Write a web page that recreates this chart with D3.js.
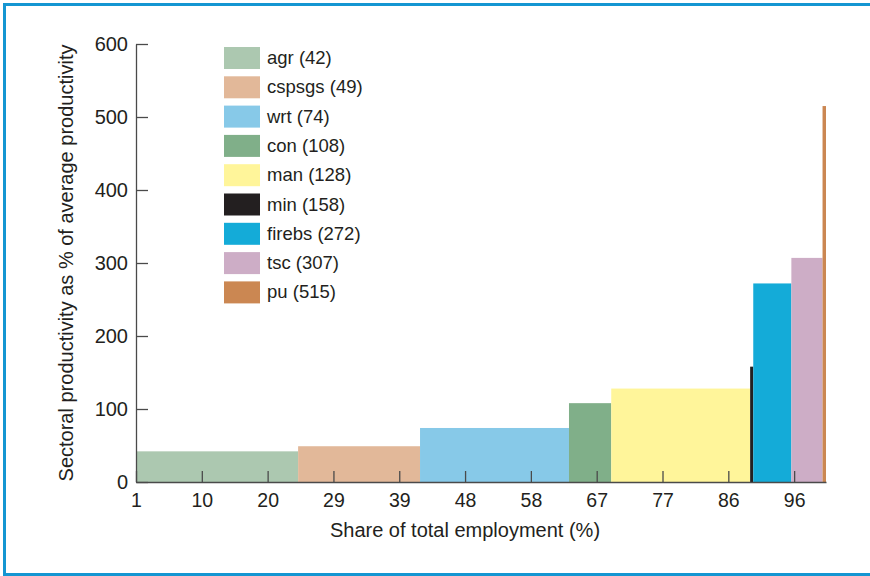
<!DOCTYPE html>
<html>
<head>
<meta charset="utf-8">
<script src="https://cdn.jsdelivr.net/npm/d3@7"></script>
<style>
  body { margin: 0; background: #fff; }
  text { font-family: "Liberation Sans", Arial, sans-serif; fill: #231f20; }
</style>
</head>
<body>
<div id="chart"></div>
<script>
// sectors, ordered by productivity
var sectors = ["agr", "cspsgs", "wrt", "con", "man", "min", "firebs", "tsc", "pu"];
// productivity as % of average
var productivity = [42, 49, 74, 108, 128, 158, 272, 307, 515];
// share of total employment (%)
var shares = [23.4, 17.6, 21.5, 6.1, 20.05, 0.45, 5.5, 4.5, 0.5];
var colors = ["#acc8b0", "#e2b899", "#87c9e8", "#80af89", "#fff59a", "#231f20", "#14abd8", "#cdadc6", "#cb8752"];

var xTickValues = [1, 10.5, 20, 29.5, 39, 48.5, 58, 67.5, 77, 86.5, 96];
var xTickLabels = ["1", "10", "20", "29", "39", "48", "58", "67", "77", "86", "96"];
var yTickValues = [0, 100, 200, 300, 400, 500, 600];

var W = 870, H = 576;
var margin = {left: 136, right: 44, top: 44, bottom: 94};

var svg = d3.select("#chart").append("svg")
  .attr("width", W)
  .attr("height", H);

// blue frame
svg.append("path")
  .attr("d", "M" + (W + 5) + ",4.5 L4.5,4.5 L4.5,574.5 L" + (W + 5) + ",574.5")
  .attr("fill", "none")
  .attr("stroke", "#1496d2")
  .attr("stroke-width", 3);

var x = d3.scaleLinear().domain([1, 100.6]).range([margin.left, W - margin.right]);
var y = d3.scaleLinear().domain([0, 600]).range([H - margin.bottom, margin.top]);

// build bar extents from cumulative shares
var bars = [];
var start = 1;
sectors.forEach(function(s, i) {
  bars.push({name: s, value: productivity[i], x0: start, x1: start + shares[i], color: colors[i]});
  start += shares[i];
});

svg.selectAll("rect.bar")
  .data(bars)
  .enter()
  .append("rect")
  .attr("class", "bar")
  .attr("x", function(d) { return x(d.x0); })
  .attr("width", function(d) { return x(d.x1) - x(d.x0); })
  .attr("y", function(d) { return y(d.value); })
  .attr("height", function(d) { return y(0) - y(d.value); })
  .attr("fill", function(d) { return d.color; });

// axes, ticks pointing inward
var xAxis = d3.axisBottom(x)
  .tickValues(xTickValues)
  .tickFormat(function(d, i) { return xTickLabels[i]; })
  .tickSize(-11)
  .tickSizeOuter(0)
  .tickPadding(11);

var gx = svg.append("g")
  .attr("transform", "translate(0," + y(0) + ")")
  .call(xAxis);
gx.selectAll("text").style("font-size", "19.5px");

var yAxis = d3.axisLeft(y)
  .tickValues(yTickValues)
  .tickSize(-12)
  .tickSizeOuter(0)
  .tickPadding(8);

var gy = svg.append("g")
  .attr("transform", "translate(" + margin.left + ",0)")
  .call(yAxis);
gy.selectAll("text").style("font-size", "20px");

svg.selectAll(".domain").attr("stroke", "#4a4a4a").attr("stroke-width", 1.3);
svg.selectAll(".tick line").attr("stroke", "#4a4a4a").attr("stroke-width", 1.3);
svg.selectAll(".tick text").attr("fill", "#231f20");

// titles
svg.append("text")
  .attr("x", 465)
  .attr("y", 537)
  .attr("text-anchor", "middle")
  .style("font-size", "20px")
  .text("Share of total employment (%)");

svg.append("text")
  .attr("transform", "translate(73," + 263 + ") rotate(-90)")
  .attr("text-anchor", "middle")
  .style("font-size", "20px")
  .text("Sectoral productivity as % of average productivity");

// legend
var legend = svg.selectAll(".legend")
  .data(bars)
  .enter()
  .append("g")
  .attr("class", "legend")
  .attr("transform", function(d, i) { return "translate(224," + (47 + i * 29.3) + ")"; });

legend.append("rect")
  .attr("width", 36)
  .attr("height", 22)
  .attr("fill", function(d) { return d.color; });

legend.append("text")
  .attr("x", 43)
  .attr("y", 17)
  .style("font-size", "18.5px")
  .text(function(d) { return d.name + " (" + d.value + ")"; });
</script>
</body>
</html>
